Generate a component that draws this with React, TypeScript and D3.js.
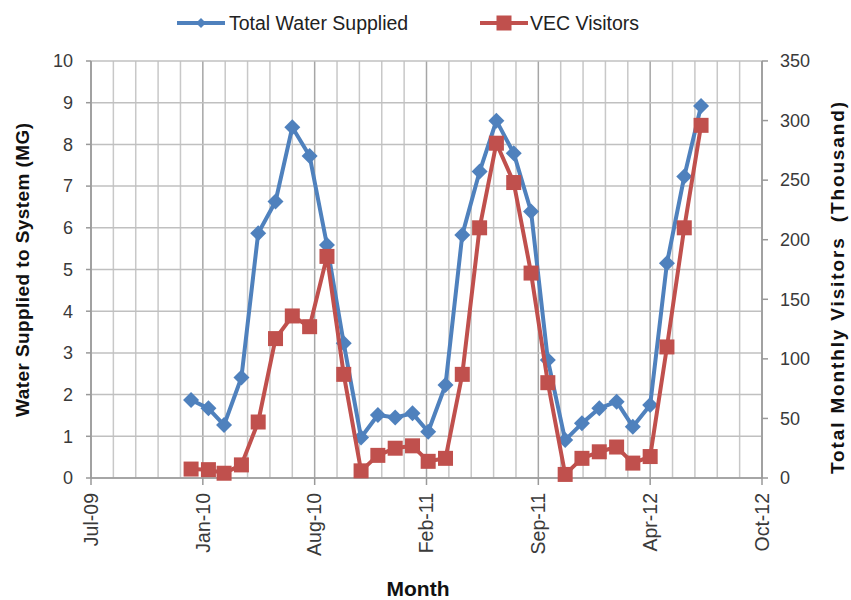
import React from "react";
import * as d3 from "d3";

const months: string[] = [
  "2010-01","2010-02","2010-03","2010-04","2010-05","2010-06","2010-07","2010-08","2010-09","2010-10","2010-11","2010-12",
  "2011-01","2011-02","2011-03","2011-04","2011-05","2011-06","2011-07","2011-08","2011-09","2011-10","2011-11","2011-12",
  "2012-01","2012-02","2012-03","2012-04","2012-05","2012-06","2012-07",
];
const waterSupplied: number[] = [
  1.87, 1.67, 1.27, 2.41, 5.87, 6.63, 8.41, 7.72, 5.59, 3.23, 0.97, 1.51, 1.45, 1.55, 1.11,
  2.23, 5.83, 7.35, 8.57, 7.79, 6.39, 2.83, 0.91, 1.31, 1.67, 1.83, 1.23, 1.75, 5.15, 7.23, 8.92,
];
const vecVisitors: number[] = [
  7.5, 7, 4, 11, 47, 117, 136, 127, 186, 87, 6, 19, 25, 27, 14,
  16.5, 87, 210, 281, 248, 172, 80, 3, 16.5, 22, 26, 12.5, 18, 110, 210, 296,
];
const xTickLabels: string[] = ["Jul-09", "Jan-10", "Aug-10", "Feb-11", "Sep-11", "Apr-12", "Oct-12"];
const leftTicks: number[] = [0, 1, 2, 3, 4, 5, 6, 7, 8, 9, 10];
const rightTicks: number[] = [0, 50, 100, 150, 200, 250, 300, 350];
const seriesNames: string[] = ["Total Water Supplied", "VEC Visitors"];

const BLUE = "#4f81bd";
const RED = "#c0504d";
const FONT = "'Liberation Sans', Arial, sans-serif";

export default function App() {
  const left = 91, right = 762, top = 61, bottom = 478;
  const start = new Date(2009, 6, 6);
  const end = d3.timeDay.offset(start, 1200);
  const x = d3.scaleTime().domain([start, end]).range([left, right]);
  const yL = d3.scaleLinear().domain([0, 10]).range([bottom, top]);
  const yR = d3.scaleLinear().domain([0, 350]).range([bottom, top]);
  const dates = months.map((m) => d3.timeParse("%Y-%m")(m) as Date);

  const majorDates = xTickLabels.map((_, i) => d3.timeDay.offset(start, i * 200));
  const minorDates: Date[] = [];
  for (let d = 0; d <= 1200; d += 40) minorDates.push(d3.timeDay.offset(start, d));

  const lineW = d3.line<number>().x((_, i) => x(dates[i])).y((v) => yL(v));
  const lineV = d3.line<number>().x((_, i) => x(dates[i])).y((v) => yR(v));

  const diamond = (cx: number, cy: number, r: number) =>
    `M${cx},${cy - r}L${cx + r},${cy}L${cx},${cy + r}L${cx - r},${cy}Z`;

  return (
    <svg width={851} height={600} style={{ position: "absolute", left: 0, top: 0, background: "#fff" }} fontFamily={FONT}>
      {/* gridlines */}
      <g>
        {minorDates.map((d, i) => (
          <line key={"v" + i} x1={x(d)} x2={x(d)} y1={top} y2={bottom} stroke={i % 5 === 0 ? "#a6a6a6" : "#c8c8c8"} strokeWidth={1.5} />
        ))}
        {leftTicks.map((t) => (
          <line key={"h" + t} x1={left} x2={right} y1={yL(t)} y2={yL(t)} stroke="#c0c0c0" strokeWidth={1.5} />
        ))}
      </g>
      {/* axes */}
      <g stroke="#999" strokeWidth={1.5}>
        <line x1={left} x2={left} y1={top} y2={bottom} />
        <line x1={right} x2={right} y1={top} y2={bottom} />
        <line x1={left} x2={right} y1={bottom} y2={bottom} />
        {leftTicks.map((t) => (
          <line key={"lt" + t} x1={left - 5} x2={left} y1={yL(t)} y2={yL(t)} />
        ))}
        {rightTicks.map((t) => (
          <line key={"rt" + t} x1={right} x2={right + 6} y1={yR(t)} y2={yR(t)} />
        ))}
        {majorDates.map((d, i) => (
          <line key={"xt" + i} x1={x(d)} x2={x(d)} y1={bottom} y2={bottom + 7} />
        ))}
      </g>
      {/* tick labels */}
      <g fontSize={18} fill="#3a3a3a">
        {leftTicks.map((t) => (
          <text key={"ll" + t} x={left - 18} y={yL(t)} dy="0.35em" textAnchor="end">{t}</text>
        ))}
        {rightTicks.map((t) => (
          <text key={"rl" + t} x={right + 18} y={yR(t)} dy="0.35em" textAnchor="start">{t}</text>
        ))}
        {majorDates.map((d, i) => (
          <text key={"xl" + i} fontSize={19.5} transform={`translate(${x(d)},${bottom + 15}) rotate(-90)`} dy="0.35em" textAnchor="end">
            {xTickLabels[i]}
          </text>
        ))}
      </g>
      {/* axis titles */}
      <text transform="translate(29,270) rotate(-90)" textAnchor="middle" fontSize={19} fontWeight="bold" fill="#111" style={{ whiteSpace: "pre" }} textLength={294} lengthAdjust="spacing">
        Water Supplied to System (MG)
      </text>
      <text transform="translate(844,288) rotate(-90)" textAnchor="middle" fontSize={19} fontWeight="bold" fill="#111" style={{ whiteSpace: "pre" }} textLength={372} lengthAdjust="spacing">
        Total Monthly Visitors  (Thousand)
      </text>
      <text x={418} y={596} textAnchor="middle" fontSize={21} fontWeight="bold" fill="#111">Month</text>
      {/* series */}
      <path d={lineW(waterSupplied) || ""} fill="none" stroke={BLUE} strokeWidth={4} strokeLinejoin="round" />
      {waterSupplied.map((v, i) => (
        <path key={"wm" + i} d={diamond(x(dates[i]), yL(v), 8)} fill={BLUE} />
      ))}
      <path d={lineV(vecVisitors) || ""} fill="none" stroke={RED} strokeWidth={4} strokeLinejoin="round" />
      {vecVisitors.map((v, i) => (
        <rect key={"vm" + i} x={x(dates[i]) - 7.5} y={yR(v) - 7.5} width={15} height={15} fill={RED} />
      ))}
      {/* legend */}
      <g fontSize={19.5} fill="#222">
        <line x1={177} x2={225} y1={23} y2={23} stroke={BLUE} strokeWidth={4} />
        <path d={diamond(201, 23, 5)} fill={BLUE} />
        <text x={229} y={23} dy="0.35em">{seriesNames[0]}</text>
        <line x1={480} x2={528} y1={23} y2={23} stroke={RED} strokeWidth={4} />
        <rect x={496.5} y={15.5} width={15} height={15} fill={RED} />
        <text x={530} y={23} dy="0.35em">{seriesNames[1]}</text>
      </g>
    </svg>
  );
}
